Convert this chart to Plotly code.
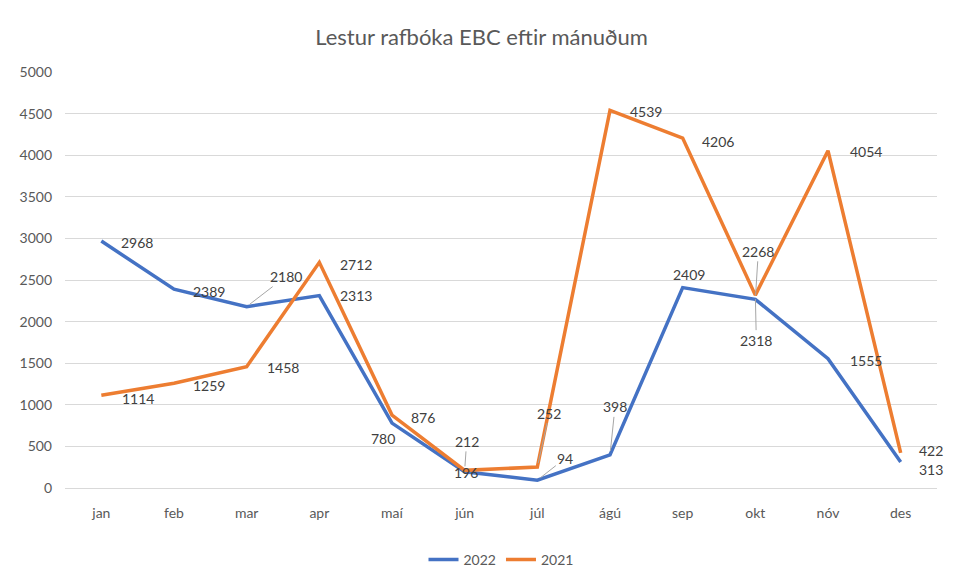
import plotly.graph_objects as go

months = ["jan", "feb", "mar", "apr", "maí", "jún", "júl", "ágú", "sep", "okt", "nóv", "des"]
y2022 = [2968, 2389, 2180, 2313, 780, 196, 94, 398, 2409, 2268, 1555, 313]
y2021 = [1114, 1259, 1458, 2712, 876, 212, 252, 4539, 4206, 2318, 4054, 422]
yticks = [0, 500, 1000, 1500, 2000, 2500, 3000, 3500, 4000, 4500, 5000]

BLUE = "#4472C4"
ORANGE = "#ED7D31"
FONT = "Lato, Carlito, Liberation Sans, sans-serif"
GREY = "#595959"
LABEL = "#404040"

# label placement (pixel offsets from the point): (dx, dy_down, leader)
off2022 = [(36, 1, False), (35, 2, False), (39, -30, True), (37, 0, False),
           (-9, 15, False), (1, 1, False), (28, -22, True), (5, -48, True),
           (6, -13, False), (3, -48, True), (38, 2, False), (30, 8, False)]
off2021 = [(37, 3, False), (35, 2, False), (36, 1, False), (37, 2, False),
           (31, 2, False), (2, -29, True), (12, -54, True), (36, 1, False),
           (35, 3, False), (1, 45, True), (38, 1, False), (30, -2, False)]

fig = go.Figure()
fig.add_trace(go.Scatter(x=months, y=y2022, mode="lines", name="2022",
                         line=dict(color=BLUE, width=3.5)))
fig.add_trace(go.Scatter(x=months, y=y2021, mode="lines", name="2021",
                         line=dict(color=ORANGE, width=3.5)))

annotations = []
for vals, offs in ((y2022, off2022), (y2021, off2021)):
    for m, v, (dx, dy, leader) in zip(months, vals, offs):
        if leader:
            annotations.append(dict(x=m, y=v, text=str(v), showarrow=True,
                                    ax=dx, ay=dy, arrowhead=0, arrowwidth=1,
                                    arrowcolor="#A6A6A6", standoff=4,
                                    font=dict(family=FONT, size=14, color=LABEL)))
        else:
            annotations.append(dict(x=m, y=v, text=str(v), showarrow=False,
                                    xshift=dx, yshift=-dy,
                                    font=dict(family=FONT, size=14, color=LABEL)))

# page body has an 8px margin, so the figure is sized to fit the 955x583 window
W, H = 947, 575
fig.update_layout(
    width=W, height=H,
    margin=dict(l=57, r=18, t=64, b=95, autoexpand=False),
    paper_bgcolor="white", plot_bgcolor="white",
    title=dict(text="Lestur rafbóka EBC eftir mánuðum", x=0.5, xanchor="center",
               y=1 - 29 / H, yanchor="middle",
               font=dict(family=FONT, size=22, color=GREY)),
    font=dict(family=FONT, size=14, color=GREY),
    xaxis=dict(showgrid=False, showline=True, linecolor="#D9D9D9", linewidth=1,
               ticks="", ticklabelstandoff=12, automargin=False,
               tickfont=dict(size=14, color=GREY), range=[-0.5, 11.5]),
    yaxis=dict(range=[0, 5000], tickvals=yticks, showgrid=True, gridcolor="#D9D9D9",
               gridwidth=1, zeroline=False, ticks="", ticklabelstandoff=12,
               automargin=False, tickfont=dict(size=14, color=GREY)),
    legend=dict(orientation="h", x=0.5, xanchor="center", y=-0.173, yanchor="middle",
                font=dict(size=14, color=GREY)),
    annotations=annotations,
    showlegend=True,
)

fig.write_html("out.html")
